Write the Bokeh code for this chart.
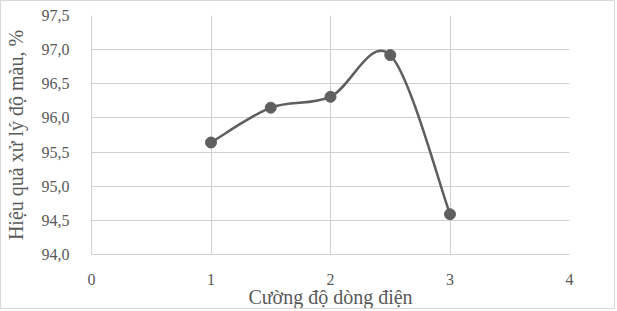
import numpy as np
from bokeh.plotting import figure
from bokeh.models import FixedTicker, Range1d
from bokeh.embed import file_html
from bokeh.resources import INLINE

# Data
current = [1.0, 1.5, 2.0, 2.5, 3.0]
efficiency = [95.64, 96.15, 96.31, 96.92, 94.59]
x_ticks = [0, 1, 2, 3, 4]
x_tick_labels = ["0", "1", "2", "3", "4"]
y_ticks = [94.0, 94.5, 95.0, 95.5, 96.0, 96.5, 97.0, 97.5]
y_tick_labels = ["94,0", "94,5", "95,0", "95,5", "96,0", "96,5", "97,0", "97,5"]
x_title = "Cường độ dòng điện"
y_title = "Hiệu quả xử lý độ màu, %"

FONT = "Liberation Serif"
TXT = "#595959"
GRID = "#d0d0d0"
SERIES = "#5f5f5f"

p = figure(width=615, height=309, output_backend="svg", toolbar_location=None,
           x_range=Range1d(0, 4), y_range=Range1d(94.0, 97.5),
           min_border_left=90, min_border_right=47, min_border_top=14, min_border_bottom=54)
p.styles = {"border": "1px solid #d9d9d9"}
p.outline_line_color = None
p.background_fill_color = "white"
p.border_fill_color = "white"

# Smoothed line (Bezier through points, Excel-like smoothing)
xs = np.array(current)
ys = np.array(efficiency)
n = len(xs)
xp = np.concatenate([[xs[0]], xs, [xs[-1]]])
yp = np.concatenate([[ys[0]], ys, [ys[-1]]])
x0 = xs[:-1]; y0 = ys[:-1]; x1 = xs[1:]; y1 = ys[1:]
cx0 = x0 + (xp[2:n + 1] - xp[0:n - 1]) / 6.0
cy0 = y0 + (yp[2:n + 1] - yp[0:n - 1]) / 6.0
cx1 = x1 - (xp[3:n + 2] - xp[1:n]) / 6.0
cy1 = y1 - (yp[3:n + 2] - yp[1:n]) / 6.0
p.bezier(x0=x0, y0=y0, x1=x1, y1=y1, cx0=cx0, cy0=cy0, cx1=cx1, cy1=cy1,
         line_color=SERIES, line_width=2.5)
p.scatter(current, efficiency, size=11, fill_color=SERIES, line_color=SERIES)

for ax, ticks, labels in ((p.xaxis[0], x_ticks, x_tick_labels), (p.yaxis[0], y_ticks, y_tick_labels)):
    ax.ticker = FixedTicker(ticks=ticks)
    ax.major_label_overrides = {t: l for t, l in zip(ticks, labels)}
    ax.major_tick_line_color = None
    ax.minor_tick_line_color = None
    ax.axis_line_color = GRID
    ax.major_label_text_font = FONT
    ax.major_label_text_font_size = "16px"
    ax.major_label_text_color = TXT
    ax.axis_label_text_font = FONT
    ax.axis_label_text_font_size = "20px"
    ax.axis_label_text_color = TXT
    ax.axis_label_text_font_style = "normal"

p.xaxis.axis_label = x_title
p.yaxis.axis_label = y_title
p.xaxis.major_label_standoff = 13
p.xaxis.axis_label_standoff = -2
p.yaxis.major_label_standoff = 16
p.yaxis.axis_label_standoff = 12

p.xgrid.ticker = FixedTicker(ticks=x_ticks)
p.ygrid.ticker = FixedTicker(ticks=y_ticks)
p.xgrid.grid_line_color = GRID
p.ygrid.grid_line_color = GRID

open("out.html", "w").write(file_html(p, INLINE))
